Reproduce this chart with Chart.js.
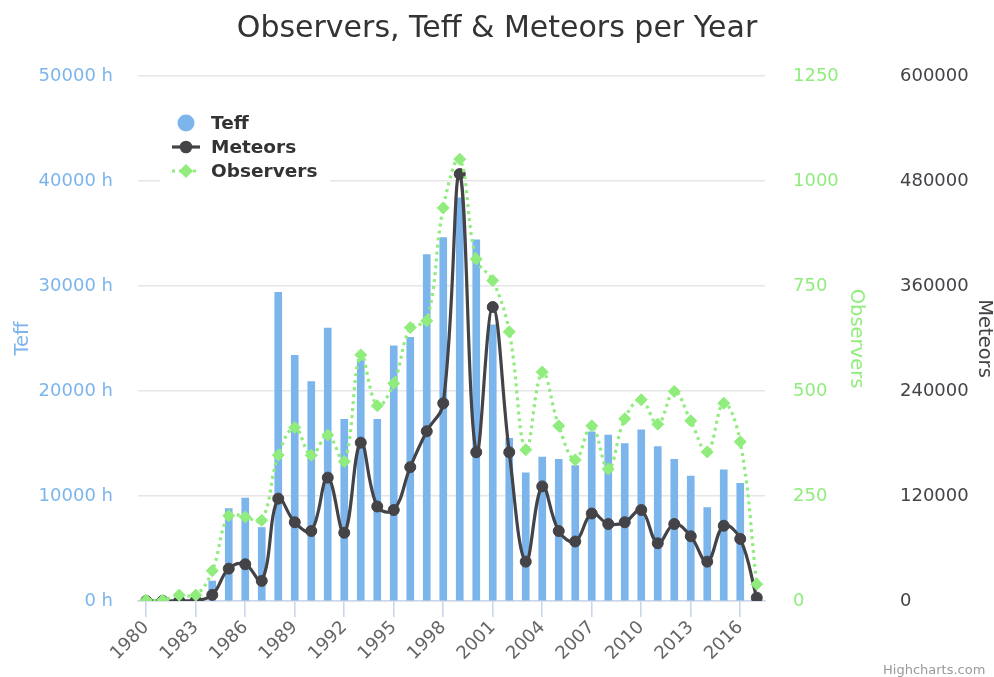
<!DOCTYPE html>
<html>
<head>
<meta charset="utf-8">
<script src="https://cdn.jsdelivr.net/npm/chart.js@4.4.1/dist/chart.umd.min.js"></script>
<style>
html, body { margin: 0; padding: 0; background: #ffffff; }
#wrap { position: relative; width: 994px; height: 677px; }
</style>
</head>
<body>
<div id="wrap"><canvas id="c"></canvas></div>
<script>
// ---- data ----
const years = [1980, 1981, 1982, 1983, 1984, 1985, 1986, 1987, 1988, 1989,
               1990, 1991, 1992, 1993, 1994, 1995, 1996, 1997, 1998, 1999,
               2000, 2001, 2002, 2003, 2004, 2005, 2006, 2007, 2008, 2009,
               2010, 2011, 2012, 2013, 2014, 2015, 2016, 2017];
const teffHours = [0, 0, 30, 80, 1900, 8800, 9800, 7000, 29400, 23400,
                   20900, 26000, 17300, 23000, 17300, 24300, 25100, 33000, 34600, 38400,
                   34400, 26300, 15500, 12200, 13700, 13500, 12900, 16100, 15800, 15000,
                   16300, 14700, 13500, 11900, 8900, 12500, 11200, 0];
const meteorCounts = [100, 150, 300, 400, 7000, 37000, 42000, 23000, 117000, 90000,
                      80000, 141000, 78000, 181000, 108000, 104000, 153000, 194000, 226000, 488000,
                      170000, 336000, 170000, 45000, 131000, 80000, 68000, 100000, 88000, 90000,
                      104000, 66000, 88000, 74000, 45000, 86000, 71000, 3800];
const observerCounts = [2, 2, 14, 14, 72, 203, 200, 192, 347, 413,
                        347, 395, 332, 586, 465, 518, 651, 667, 936, 1052,
                        814, 763, 641, 360, 545, 417, 336, 417, 314, 434,
                        479, 421, 499, 429, 355, 471, 379, 40];
const teffAxisMax = 50000, teffStep = 10000;
const observersAxisMax = 1250, observersStep = 250;
const meteorsAxisMax = 600000, meteorsStep = 120000;
const yearLabelEvery = 3;
const chartTitle = 'Observers, Teff & Meteors per Year';
const seriesNames = ['Teff', 'Meteors', 'Observers'];
const creditText = 'Highcharts.com';

// ---- styles ----
const FONT = 'DejaVu Sans';
const C_TEFF = '#7cb5ec', C_MET = '#434348', C_OBS = '#90ed7d';

const floatLegend = {
  id: 'floatLegend',
  afterDraw(chart) {
    const ctx = chart.ctx, a = chart.chartArea;
    ctx.save();
    ctx.fillStyle = '#ffffff';
    ctx.fillRect(a.left + 22, a.top + 24, 170, 84);
    const sx = a.left + 48, tx = a.left + 73, y0 = a.top + 47, lh = 24;
    ctx.font = 'bold 18.5px "' + FONT + '"';
    ctx.textBaseline = 'middle';
    ctx.textAlign = 'left';
    // Teff
    ctx.fillStyle = C_TEFF;
    ctx.beginPath(); ctx.arc(sx, y0, 8.5, 0, Math.PI * 2); ctx.fill();
    // Meteors
    let y = y0 + lh;
    ctx.strokeStyle = C_MET; ctx.lineWidth = 3.2;
    ctx.beginPath(); ctx.moveTo(sx - 14, y); ctx.lineTo(sx + 14, y); ctx.stroke();
    ctx.fillStyle = C_MET;
    ctx.beginPath(); ctx.arc(sx, y, 6.3, 0, Math.PI * 2); ctx.fill();
    // Observers
    y = y0 + 2 * lh;
    ctx.strokeStyle = C_OBS; ctx.setLineDash([3, 4]);
    ctx.beginPath(); ctx.moveTo(sx - 14, y); ctx.lineTo(sx + 14, y); ctx.stroke();
    ctx.setLineDash([]);
    ctx.fillStyle = C_OBS;
    ctx.beginPath(); ctx.moveTo(sx - 7, y); ctx.lineTo(sx, y - 7); ctx.lineTo(sx + 7, y); ctx.lineTo(sx, y + 7); ctx.closePath(); ctx.fill();
    ctx.fillStyle = '#333333';
    seriesNames.forEach((n, i) => ctx.fillText(n, tx, y0 + i * lh + 1));
    // credits
    ctx.font = '13px "' + FONT + '"';
    ctx.fillStyle = '#999999';
    ctx.textBaseline = 'alphabetic';
    ctx.fillText(creditText, chart.width - 111, chart.height - 3.5);
    ctx.restore();
  }
};

new Chart(document.getElementById('c'), {
  data: {
    labels: years.map(String),
    datasets: [
      { type: 'bar', label: seriesNames[0], data: teffHours, yAxisID: 'y',
        backgroundColor: C_TEFF, borderWidth: 0, barThickness: 7, order: 3 },
      { type: 'line', label: seriesNames[1], data: meteorCounts, yAxisID: 'y2',
        borderColor: C_MET, borderWidth: 3.2, tension: 0.4, fill: false,
        pointStyle: 'circle', pointRadius: 5.5, pointBorderWidth: 1,
        pointBackgroundColor: C_MET, pointBorderColor: C_MET, order: 2 },
      { type: 'line', label: seriesNames[2], data: observerCounts, yAxisID: 'y1',
        borderColor: C_OBS, borderWidth: 3.2, borderDash: [3, 4], tension: 0.4, fill: false,
        pointStyle: 'rectRot', pointRadius: 6, pointBorderWidth: 1,
        pointBackgroundColor: C_OBS, pointBorderColor: C_OBS, order: 1 }
    ]
  },
  options: {
    responsive: true,
    maintainAspectRatio: false,
    animation: false,
    layout: { padding: 0 },
    plugins: {
      legend: { display: false },
      tooltip: { enabled: false },
      title: { display: true, text: chartTitle, color: '#333333',
               font: { family: FONT, size: 30, weight: 'normal' },
               padding: { top: 11, bottom: 29 } }
    },
    scales: {
      x: {
        type: 'category', offset: true,
        grid: { offset: false, drawOnChartArea: false, color: '#ccd6eb', lineWidth: 1.6, tickLength: 16 },
        border: { color: '#ccd6eb', width: 1.6 },
        ticks: { autoSkip: false, maxRotation: 45, minRotation: 45, color: '#666666', padding: 0,
                 font: { family: FONT, size: 18 },
                 callback(v, i) { return i % yearLabelEvery === 0 ? this.getLabelForValue(v) : null; } },
        afterFit(s) { s.height = 76; }
      },
      y: {
        position: 'left', min: 0, max: teffAxisMax,
        grid: { color: '#e6e6e6', lineWidth: 1.6, drawTicks: false },
        border: { display: false },
        ticks: { stepSize: teffStep, color: C_TEFF, padding: 25, font: { family: FONT, size: 18 },
                 callback: v => v + ' h' },
        title: { display: true, text: seriesNames[0], color: C_TEFF, font: { family: FONT, size: 19.5 },
                 padding: { top: 11, bottom: 0 } },
        afterFit(s) { s.width = 138; }
      },
      y1: {
        position: 'right', min: 0, max: observersAxisMax,
        grid: { display: false, drawTicks: false },
        border: { display: false },
        ticks: { stepSize: observersStep, color: C_OBS, padding: 28, font: { family: FONT, size: 18 },
                 callback: v => String(v) },
        title: { display: true, text: seriesNames[2], color: C_OBS, font: { family: FONT, size: 19.5 },
                 padding: { top: 0, bottom: 0 } },
        afterFit(s) { s.width = 103; }
      },
      y2: {
        position: 'right', min: 0, max: meteorsAxisMax,
        grid: { display: false, drawTicks: false },
        border: { display: false },
        ticks: { stepSize: meteorsStep, color: C_MET, padding: 32, font: { family: FONT, size: 18 },
                 callback: v => String(v) },
        title: { display: true, text: seriesNames[1], color: C_MET, font: { family: FONT, size: 19.5 },
                 padding: { top: -2, bottom: 0 } },
        afterFit(s) { s.width = 126; }
      }
    }
  },
  plugins: [floatLegend]
});
</script>
</body>
</html>
